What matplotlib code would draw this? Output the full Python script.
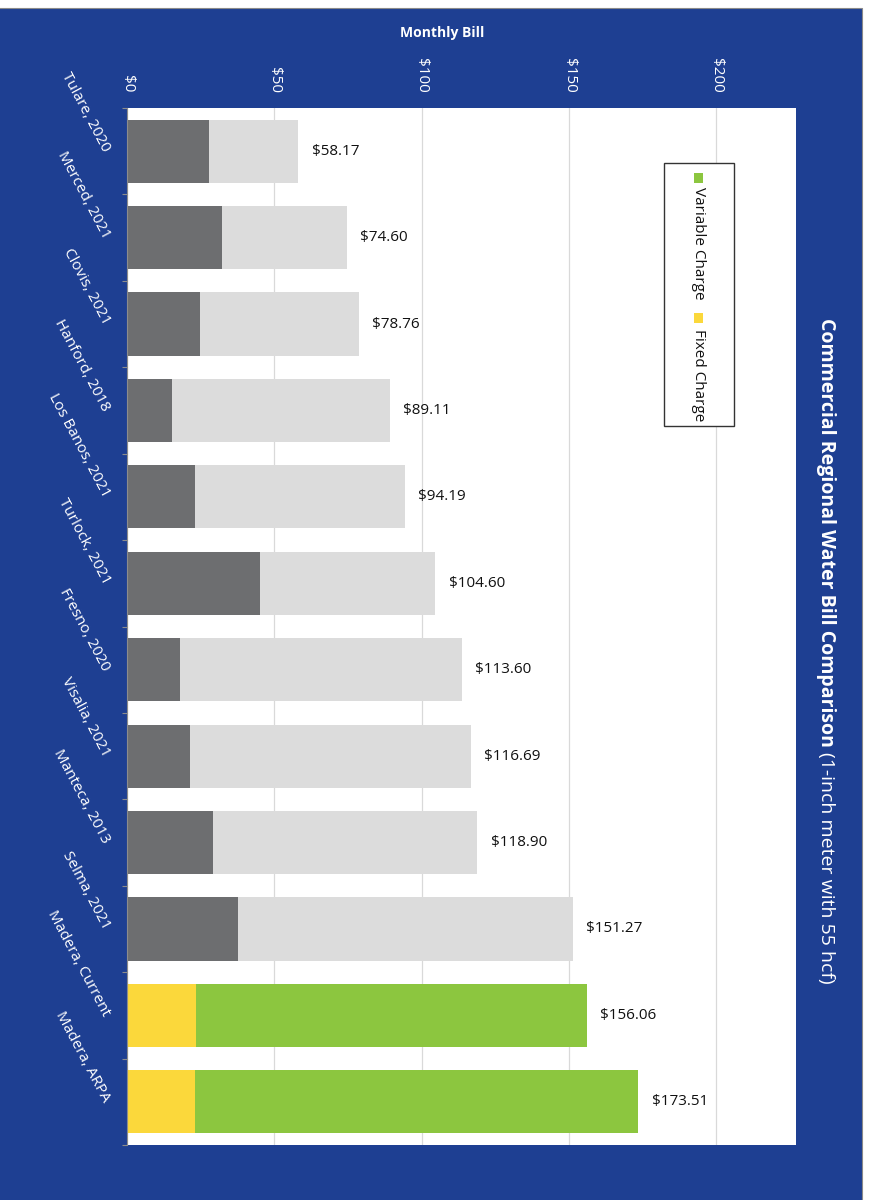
import matplotlib.pyplot as plt
from matplotlib.patches import Rectangle

plt.rcParams['font.family'] = ['Open Sans', 'DejaVu Sans']

# bill data
cities = ["Tulare, 2020", "Merced, 2021", "Clovis, 2021", "Hanford, 2018",
          "Los Banos, 2021", "Turlock, 2021", "Fresno, 2020", "Visalia, 2021",
          "Manteca, 2013", "Selma, 2021", "Madera, Current", "Madera, ARPA"]
totals = [58.17, 74.60, 78.76, 89.11, 94.19, 104.60, 113.60, 116.69,
          118.90, 151.27, 156.06, 173.51]
fixed = [27.9, 32.3, 24.7, 15.4, 23.0, 45.2, 18.0, 21.5, 29.3, 37.8, 23.5, 23.0]
x_ticks = [0, 50, 100, 150, 200]
x_tick_labels = ["$0", "$50", "$100", "$150", "$200"]

BLUE = "#1E3F92"
DARK = "#6D6E70"
LIGHT = "#DCDCDC"
YELLOW = "#FBD83B"
GREEN = "#8CC63F"

W, H = 874, 1200
fig = plt.figure(figsize=(W / 100, H / 100), dpi=100)
fig.patch.set_facecolor("white")


def px(x, y):
    return x / W, 1 - y / H


# blue panel behind everything (left/bottom edges run off the canvas)
fig.add_artist(Rectangle((-0.01, -0.01), 862 / W + 0.01, 1192 / H + 0.01,
                         transform=fig.transFigure, fc=BLUE, ec="#8A8A8A",
                         lw=0.8, zorder=-5))

ax = fig.add_axes([127 / W, 1 - 1145 / H, (796 - 127) / W, (1145 - 108) / H])
ax.set_facecolor("white")

n = len(cities)
pos = list(range(n))
variable = [t - f for t, f in zip(totals, fixed)]
fixed_cols = [DARK] * (n - 2) + [YELLOW] * 2
var_cols = [LIGHT] * (n - 2) + [GREEN] * 2

ax.barh(pos, fixed, height=0.73, color=fixed_cols, zorder=2)
ax.barh(pos, variable, left=fixed, height=0.73, color=var_cols, zorder=2)
for i, t in enumerate(totals):
    ax.text(t + 4.5, i, f"${t:.2f}", ha="left", va="center",
            fontsize=11, color="#111111")

ax.set_xlim(0, 227)
ax.set_ylim(n - 0.5, -0.5)

ax.xaxis.tick_top()
ax.set_xticks(x_ticks)
ax.set_xticklabels(x_tick_labels)
ax.tick_params(axis="x", length=0, pad=11, labelsize=11,
               labelcolor="white", labelrotation=-90)

ax.set_yticks(pos)
ax.set_yticklabels(cities, rotation=-62, ha="right", va="center",
                   rotation_mode="anchor")
ax.tick_params(axis="y", which="major", length=0, pad=15, labelsize=11,
               labelcolor="white")
ax.set_yticks([p - 0.5 for p in pos] + [n - 0.5], minor=True)
ax.tick_params(axis="y", which="minor", length=3.5, color="#8C8C8C", width=0.8)

for s in ["top", "right", "bottom"]:
    ax.spines[s].set_visible(False)
ax.spines["left"].set_color("#8C8C8C")
ax.spines["left"].set_linewidth(0.8)

ax.grid(axis="x", color="#D9D9D9", lw=0.9)
ax.set_axisbelow(True)

fig.text(*px(442, 33), "Monthly Bill", ha="center", va="center",
         fontsize=10, fontweight="bold", color="white")

# title, read top to bottom: bold part then the regular note after it
t1 = fig.text(*px(826, 318), "Commercial Regional Water Bill Comparison",
              rotation=-90, ha="center", va="top", fontsize=14,
              fontweight="bold", color="white")
ax.annotate("(1-inch meter with 55 hcf)", xy=(0.5, 0), xycoords=t1,
            xytext=(0, -4), textcoords="offset points", rotation=-90,
            ha="center", va="top", fontsize=14, color="white",
            annotation_clip=False)

# legend box
lx0, ly0 = px(664, 426)
fig.add_artist(Rectangle((lx0, ly0), 70 / W, 263 / H, transform=fig.transFigure,
                         fc="white", ec="#333333", lw=1.0, zorder=5))
for (sq_top, txt_top, col, label) in [(173, 187, GREEN, "Variable Charge"),
                                      (313, 329, YELLOW, "Fixed Charge")]:
    sx, sy = px(694, sq_top + 10)
    fig.add_artist(Rectangle((sx, sy), 9 / W, 10 / H, transform=fig.transFigure,
                             fc=col, ec="none", zorder=6))
    fig.text(*px(698.5, txt_top), label, rotation=-90, ha="center", va="top",
             fontsize=11, color="#111111", zorder=6)

fig.savefig("out.png", dpi=100, facecolor=fig.get_facecolor())
